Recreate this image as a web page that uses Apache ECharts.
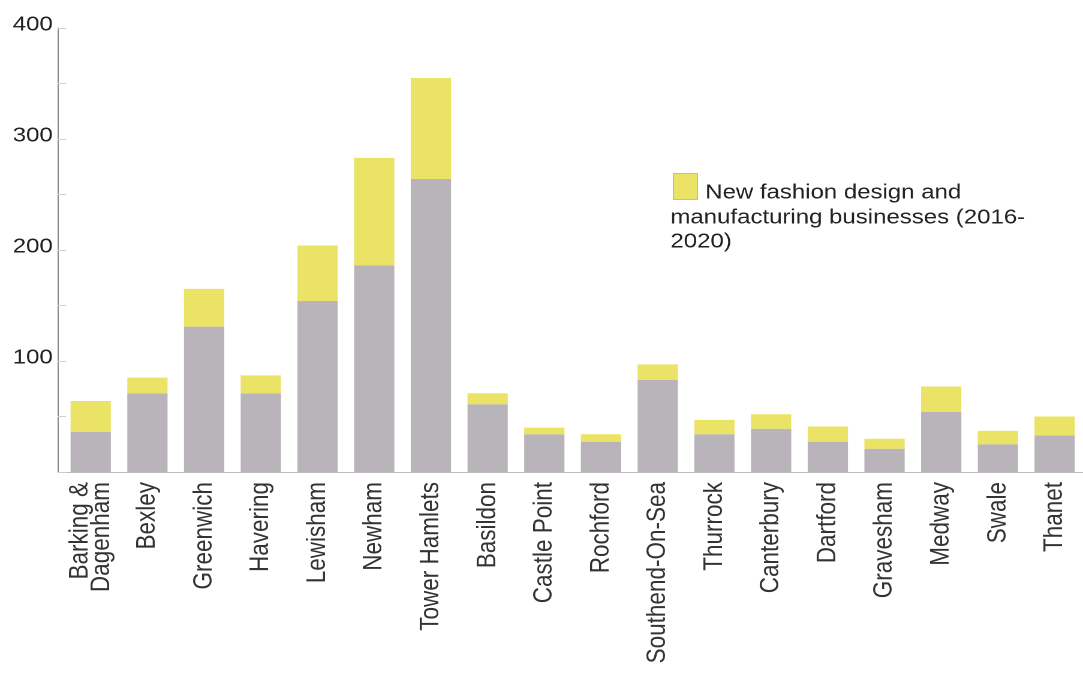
<!DOCTYPE html>
<html>
<head>
<meta charset="utf-8">
<script src="https://cdn.jsdelivr.net/npm/echarts@6/dist/echarts.min.js"></script>
<style>
  html, body { margin: 0; padding: 0; background: #fff; overflow: hidden; }
  #wrap { width: 1083px; height: 675px; overflow: hidden; }
  /* the source picture is stretched sideways, so draw narrower and scale */
  #chart { width: 903px; height: 675px; transform: scaleX(1.1993); transform-origin: 0 0; }
</style>
</head>
<body>
<div id="wrap"><div id="chart"></div></div>
<script>
// boroughs / districts
const areas = [
  'Barking &\nDagenham', 'Bexley', 'Greenwich', 'Havering', 'Lewisham', 'Newham',
  'Tower Hamlets', 'Basildon', 'Castle Point', 'Rochford', 'Southend-On-Sea',
  'Thurrock', 'Canterbury', 'Dartford', 'Gravesham', 'Medway', 'Swale', 'Thanet'
];
// grey part of each bar
const existing = [36, 71, 131, 71, 154, 186, 264, 61, 34, 27, 83, 34, 39, 27, 21, 54, 25, 33];
// yellow part stacked on top
const newBusinesses = [28, 14, 34, 16, 50, 97, 91, 10, 6, 7, 14, 13, 13, 14, 9, 23, 12, 17];
// y labels that are printed
const yLabels = [100, 200, 300, 400];

const legendName = 'New fashion design and manufacturing businesses (2016-2020)';
const font = 'Liberation Sans';

const chart = echarts.init(document.getElementById('chart'), null, { renderer: 'canvas', devicePixelRatio: 2 });

chart.setOption({
  animation: false,
  backgroundColor: '#fff',
  grid: { left: 52, right: -7, top: 28, bottom: 203 },
  // legend only draws the swatch, its wrapped text is placed below
  legend: {
    data: [{ name: legendName, icon: 'rect' }],
    left: 561,
    top: 173,
    padding: 0,
    itemWidth: 20,
    itemHeight: 26,
    selectedMode: false,
    itemStyle: { borderColor: '#cfc65a', borderWidth: 1 },
    formatter: () => ''
  },
  graphic: [
    {
      type: 'text',
      left: 588,
      top: 181,
      style: {
        text: 'New fashion design and',
        fontFamily: font,
        fontSize: 20,
        lineHeight: 24,
        fill: '#222'
      }
    },
    {
      type: 'text',
      left: 559,
      top: 206,
      style: {
        text: 'manufacturing businesses (2016-\n2020)',
        fontFamily: font,
        fontSize: 20,
        lineHeight: 24,
        fill: '#222'
      }
    }
  ],
  xAxis: {
    type: 'category',
    data: areas,
    axisLine: { lineStyle: { color: '#bdbdbd', width: 1 } },
    axisTick: { inside: true, length: 6, lineStyle: { color: '#555' } },
    axisLabel: {
      interval: 0,
      rotate: 90,
      margin: 10,
      fontFamily: font,
      fontSize: 22.5,
      lineHeight: 18,
      color: '#333'
    }
  },
  yAxis: {
    type: 'value',
    min: 0,
    max: 400,
    interval: 50,
    offset: 4,
    splitLine: { show: false },
    axisLine: { show: true, lineStyle: { color: '#8a8a8a' } },
    axisTick: { show: true, inside: true, length: 7, lineStyle: { color: '#cfcfcf' } },
    axisLabel: {
      margin: 4,
      color: '#222',
      formatter: v => yLabels.includes(v) ? '{t|' + v + '}' : '',
      rich: {
        t: { fontFamily: font, fontSize: 20, color: '#222', padding: [0, 0, 6, 0] }
      }
    }
  },
  series: [
    {
      name: 'Existing',
      type: 'bar',
      stack: 'total',
      barCategoryGap: '29%',
      data: existing,
      itemStyle: { color: '#b9b3ba' }
    },
    {
      name: legendName,
      type: 'bar',
      stack: 'total',
      data: newBusinesses,
      itemStyle: { color: '#ebe366' }
    }
  ]
});
</script>
</body>
</html>
